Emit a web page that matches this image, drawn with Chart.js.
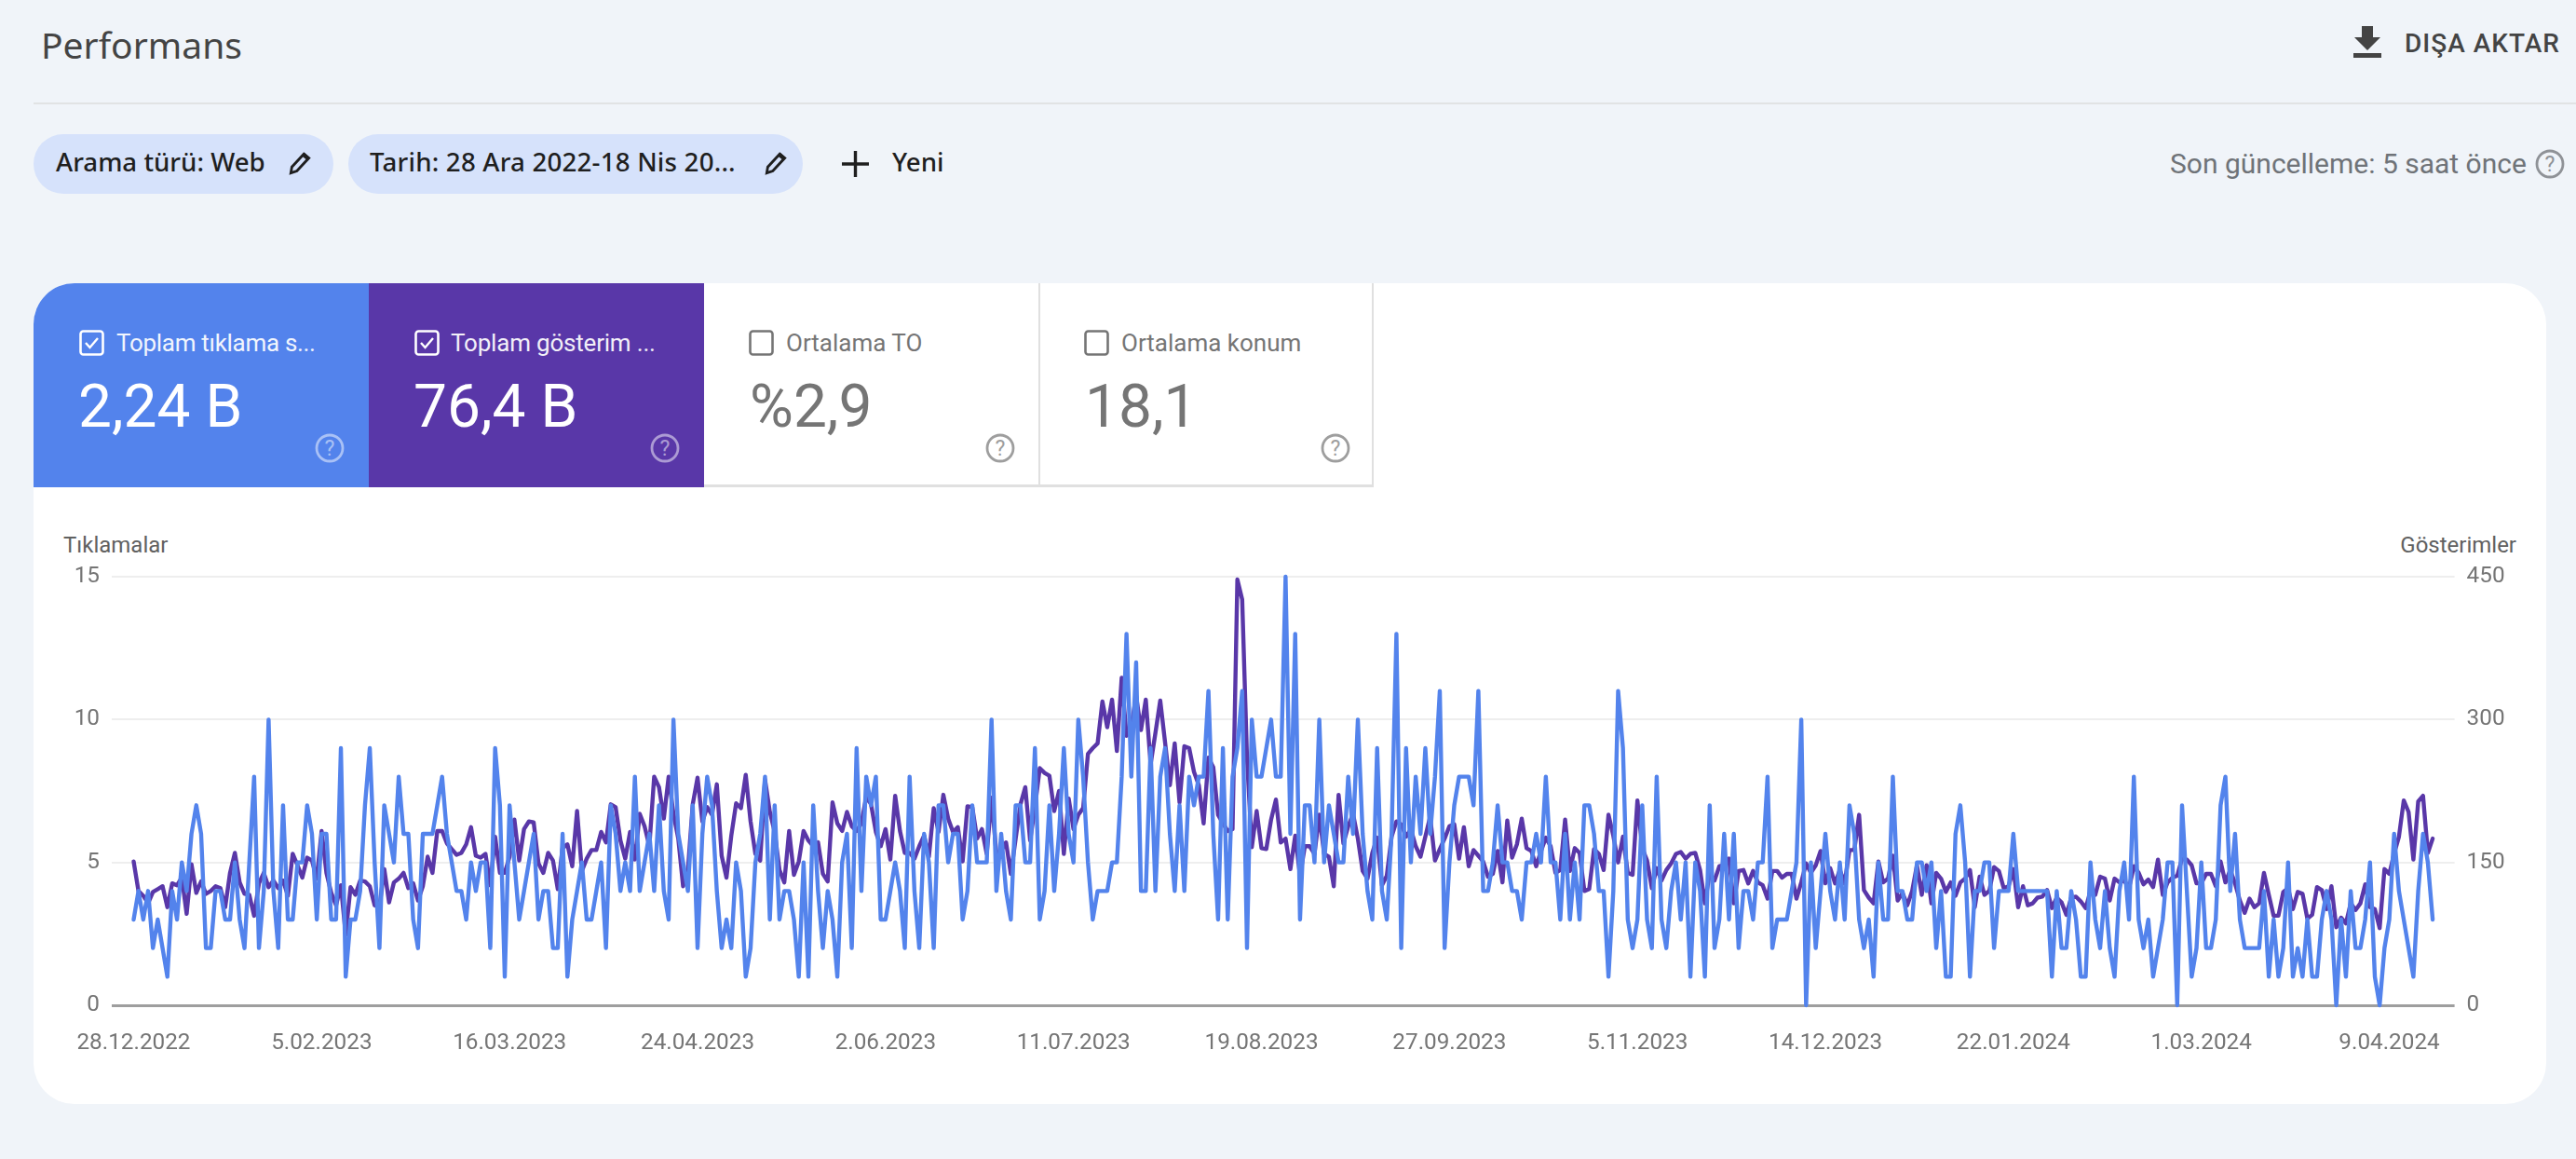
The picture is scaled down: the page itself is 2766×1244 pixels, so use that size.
<!DOCTYPE html>
<html lang="tr"><head><meta charset="utf-8">
<script src="https://cdn.jsdelivr.net/npm/chart.js@4"></script>
<style>
html,body{margin:0;padding:0;width:2766px;height:1244px;overflow:hidden;background:#f0f4f9;font-family:Roboto,sans-serif}
.a{position:absolute;white-space:nowrap;line-height:1}
.gs{font-family:"Noto Sans",Roboto,sans-serif}
.chip{position:absolute;top:144px;height:64px;border-radius:32px;background:#d6e2fb}
.tab{position:absolute;top:304px;width:360px;height:219px;box-sizing:border-box}
svg{position:absolute;overflow:visible}
</style></head><body>
<div class="a gs" style="left:44px;top:28px;font-size:39px;color:#444">Performans</div>
<svg style="left:2527px;top:28px" width="30" height="34" viewBox="0 0 30 34"><path d="M9 0h12v12h8L15 26 1 12h8z M0 29h30v5H0z" fill="#444"/></svg>
<div class="a" style="left:2582px;top:33px;font-size:28px;font-weight:500;color:#444;letter-spacing:1px">DIŞA AKTAR</div>
<div class="a" style="left:36px;top:110px;width:2730px;height:2px;background:#e1e3e4"></div>

<div class="chip" style="left:36px;width:322px"></div>
<div class="chip" style="left:374px;width:488px"></div>
<div class="a gs" style="left:60px;top:160px;font-size:27.7px;font-weight:500;color:#1f1f1f">Arama türü: Web</div>
<svg style="left:308px;top:162px" width="28" height="28" viewBox="0 0 26 26"><path d="M4 22l1-6L17 3l5 4L10 20z" fill="none" stroke="#1f1f1f" stroke-width="2.6"/><path d="M15 5l5 4 2-3-4-4z" fill="#1f1f1f"/></svg>
<div class="a gs" style="left:397px;top:160px;font-size:27.7px;font-weight:500;color:#1f1f1f;letter-spacing:.2px">Tarih: 28 Ara 2022-18 Nis 20...</div>
<svg style="left:819px;top:162px" width="28" height="28" viewBox="0 0 26 26"><path d="M4 22l1-6L17 3l5 4L10 20z" fill="none" stroke="#1f1f1f" stroke-width="2.6"/><path d="M15 5l5 4 2-3-4-4z" fill="#1f1f1f"/></svg>
<svg style="left:904px;top:162px" width="29" height="28" viewBox="0 0 29 28"><path d="M0 14h29M14.5 0v28" stroke="#1f1f1f" stroke-width="3.4"/></svg>
<div class="a gs" style="left:958px;top:160px;font-size:27.7px;font-weight:500;color:#1f1f1f">Yeni</div>

<div class="a" style="left:2330px;top:161px;font-size:30px;color:#6f7378">Son güncelleme: 5 saat önce</div>
<svg style="left:2722px;top:160px" width="32" height="32" viewBox="0 0 32 32"><circle cx="16" cy="16" r="14" fill="none" stroke="#8f9297" stroke-width="2.8"/><text x="16" y="24" font-size="23" text-anchor="middle" fill="#8f9297" font-family="Roboto">?</text></svg>

<div class="a" style="left:36px;top:304px;width:2698px;height:881px;background:#fff;border-radius:44px"></div>
<div class="tab" style="left:36px;background:#5383ec;border-top-left-radius:44px"></div>
<div class="tab" style="left:396px;background:#5937a8"></div>
<div class="tab" style="left:756px;border-bottom:3px solid #e0e0e0"></div>
<div class="tab" style="left:1115px;border-bottom:3px solid #e0e0e0;border-left:2px solid #e0e0e0;border-right:2px solid #e0e0e0"></div>

<svg style="left:85px;top:354px" width="27" height="28" viewBox="0 0 27 28"><rect x="1.5" y="1.5" width="24" height="25" rx="3" fill="none" stroke="#fff" stroke-width="2.6"/><path d="M7 14l4.5 5L20 9" fill="none" stroke="#fff" stroke-width="2.4"/></svg>
<div class="a" style="left:125px;top:355px;font-size:26px;color:#fff;opacity:.92;letter-spacing:-.3px">Toplam tıklama s...</div>
<div class="a" style="left:84px;top:405px;font-size:64px;color:#fff">2,24 B</div>
<svg style="left:338px;top:465px" width="32" height="32" viewBox="0 0 32 32"><circle cx="16" cy="16" r="14" fill="none" stroke="#fff" stroke-opacity=".5" stroke-width="2.8"/><text x="16" y="24" font-size="23" text-anchor="middle" fill="#fff" fill-opacity=".5" font-family="Roboto">?</text></svg>

<svg style="left:445px;top:354px" width="27" height="28" viewBox="0 0 27 28"><rect x="1.5" y="1.5" width="24" height="25" rx="3" fill="none" stroke="#fff" stroke-width="2.6"/><path d="M7 14l4.5 5L20 9" fill="none" stroke="#fff" stroke-width="2.4"/></svg>
<div class="a" style="left:484px;top:355px;font-size:26px;color:#fff;opacity:.92;letter-spacing:-.2px">Toplam gösterim ...</div>
<div class="a" style="left:444px;top:405px;font-size:64px;color:#fff">76,4 B</div>
<svg style="left:698px;top:465px" width="32" height="32" viewBox="0 0 32 32"><circle cx="16" cy="16" r="14" fill="none" stroke="#fff" stroke-opacity=".5" stroke-width="2.8"/><text x="16" y="24" font-size="23" text-anchor="middle" fill="#fff" fill-opacity=".5" font-family="Roboto">?</text></svg>

<svg style="left:804px;top:354px" width="27" height="28" viewBox="0 0 27 28"><rect x="1.5" y="1.5" width="24" height="25" rx="3" fill="none" stroke="#757575" stroke-width="2.6"/></svg>
<div class="a" style="left:844px;top:355px;font-size:26px;color:#757575">Ortalama TO</div>
<div class="a" style="left:805px;top:405px;font-size:64px;color:#757575">%2,9</div>
<svg style="left:1058px;top:465px" width="32" height="32" viewBox="0 0 32 32"><circle cx="16" cy="16" r="14" fill="none" stroke="#9e9e9e" stroke-width="2.8"/><text x="16" y="24" font-size="23" text-anchor="middle" fill="#9e9e9e" font-family="Roboto">?</text></svg>

<svg style="left:1164px;top:354px" width="27" height="28" viewBox="0 0 27 28"><rect x="1.5" y="1.5" width="24" height="25" rx="3" fill="none" stroke="#757575" stroke-width="2.6"/></svg>
<div class="a" style="left:1204px;top:355px;font-size:26px;color:#757575">Ortalama konum</div>
<div class="a" style="left:1165px;top:405px;font-size:64px;color:#757575">18,1</div>
<svg style="left:1418px;top:465px" width="32" height="32" viewBox="0 0 32 32"><circle cx="16" cy="16" r="14" fill="none" stroke="#9e9e9e" stroke-width="2.8"/><text x="16" y="24" font-size="23" text-anchor="middle" fill="#9e9e9e" font-family="Roboto">?</text></svg>

<div class="a" style="left:68px;top:573px;font-size:24px;color:#616161">Tıklamalar</div>
<div class="a" style="right:64px;top:573px;font-size:24px;color:#616161">Gösterimler</div>

<div class="a" style="left:36px;top:560px;width:2698px;height:620px"><canvas id="c" width="2698" height="620"></canvas></div>

<script>
const tickDays = [0,39,78,117,156,195,234,273,312,351,390,429,468];
const tickLabels = ["28.12.2022","5.02.2023","16.03.2023","24.04.2023","2.06.2023","11.07.2023","19.08.2023","27.09.2023","5.11.2023","14.12.2023","22.01.2024","1.03.2024","9.04.2024"];
const leftTicks = [0,5,10,15];
const rightTicks = [0,150,300,450];
const clicks = [
3,4,3,4,2,3,2,1,4,3, 5,4,6,7,6,2,2,4,4,3, 3,5,3,2,5,8,2,4,10,4, 2,7,3,3,5,5,7,6,3,6,
6,3,3,9,1,3,3,4,7,9, 5,2,7,6,5,8,6,6,3,2, 6,6,6,7,8,6,5,4,4,3, 5,4,5,5,2,9,7,1,7,5,
3,4,5,6,3,4,4,2,2,6, 1,3,4,5,3,3,4,5,2,7, 6,4,5,4,8,4,5,6,4,7, 4,3,10,6,5,4,7,2,6,8,
7,4,2,3,2,5,4,1,2,5, 6,8,3,7,3,4,4,3,1,5, 1,7,4,2,4,3,1,5,6,2, 9,4,8,7,8,3,3,4,5,4,
2,8,4,2,6,5,2,7,7,5, 6,6,3,4,7,5,5,5,10,4, 6,4,3,7,7,5,5,9,3,4, 7,4,6,9,6,5,10,8,5,3,
4,4,4,5,5,8,13,8,12,4, 4,9,4,8,9,6,4,7,4,8, 7,8,8,11,6,3,9,3,8,9, 11,2,10,8,8,9,10,8,8,15,
6,13,3,7,7,5,10,5,7,6, 5,5,8,6,10,6,4,3,9,4, 3,6,13,2,9,5,8,6,9,6, 8,11,2,5,7,8,8,8,7,11,
4,4,5,7,5,5,4,4,3,5, 5,6,5,8,5,5,3,6,3,5, 3,7,7,6,4,4,1,4,11,9, 3,2,3,7,3,2,8,3,2,4,
5,3,5,1,5,4,1,7,2,3, 6,3,6,2,4,4,3,5,5,8, 2,3,3,3,4,5,10,0,5,2, 4,6,4,3,5,3,7,6,3,2,
3,1,5,3,3,8,4,4,3,3, 5,5,4,5,2,4,1,1,6,7, 5,1,4,4,5,5,2,4,4,4, 6,4,4,4,4,4,4,4,1,4,
2,2,4,3,1,1,5,3,2,4, 2,1,4,5,3,8,3,2,3,1, 2,3,5,5,0,7,4,1,2,5, 2,2,3,7,8,4,6,3,2,2,
2,2,4,1,3,1,2,5,1,2, 1,3,1,1,3,4,3,0,3,1, 4,2,2,3,5,1,0,2,3,6, 4,3,2,1,4,6,5,3];
const impressions = [
151,120,115,107,119,122,125,103,128,126, 134,96,148,118,130,117,120,125,123,103,
139,160,129,117,116,94,128,139,124,131, 123,131,115,159,147,134,155,152,133,183,
139,118,105,126,74,124,116,131,130,125, 105,103,143,108,129,133,139,123,128,110,
125,156,139,183,183,170,164,158,160,169, 187,157,155,159,126,177,139,139,156,195,
152,185,193,192,149,139,160,152,122,165, 169,146,204,141,154,163,163,182,171,211,
208,173,154,182,153,201,188,167,240,229, 196,240,201,175,125,142,211,239,193,208,
200,232,157,134,178,212,207,242,193,159, 152,237,203,182,142,129,183,137,151,183,
173,167,171,138,130,213,191,183,203,188, 183,191,219,211,182,167,185,153,220,183,
160,160,154,167,178,156,207,182,221,196, 182,187,151,209,208,175,185,159,218,159,
162,171,138,175,211,229,173,208,249,244, 241,204,225,159,217,185,200,207,264,270,
275,319,292,321,267,344,283,293,325,289, 321,253,286,320,276,231,275,213,272,270,
245,231,191,260,250,200,191,183,185,447, 426,260,166,204,165,164,195,216,171,175,
143,178,136,167,167,159,200,159,156,125, 221,170,188,201,175,141,133,160,176,126,
136,177,193,190,177,185,167,156,177,198, 152,164,175,188,190,154,187,146,163,157,
151,135,138,162,129,194,155,169,196,165, 162,146,162,176,167,139,142,195,141,165,
160,120,122,164,159,142,200,178,150,177, 139,137,215,165,152,123,144,131,142,149,
159,161,154,159,160,142,107,139,131,146, 147,154,107,141,142,128,141,129,126,112,
141,141,134,138,138,112,129,149,139,147, 162,128,144,128,142,128,163,163,200,121,
113,107,151,129,133,157,110,118,105,120, 147,116,147,107,139,133,119,129,115,129,
133,142,103,135,116,120,145,141,123,125, 143,103,125,105,107,113,114,121,102,113,
108,95,113,114,109,102,120,116,135,133, 110,133,129,131,123,146,139,127,132,124,
153,116,129,134,136,154,153,147,128,128, 138,138,125,151,129,142,128,110,97,112,
103,107,139,116,94,94,119,123,101,119, 117,91,95,124,121,101,125,82,92,86,
107,100,107,127,103,101,81,143,138,159, 177,215,203,153,214,220,160,175];

const points = a => a.map((v,i)=>({x:i,y:v}));
const tickFont = {family:'Roboto',size:24.3};
const tickColor = '#757575';

new Chart(document.getElementById('c'),{
  type:'line',
  data:{datasets:[
    {label:'Gösterimler',data:points(impressions),yAxisID:'yR',borderColor:'#5937a8',borderWidth:4.4,borderJoinStyle:'round',borderCapStyle:'round',pointRadius:0,tension:0,clip:false,order:2},
    {label:'Tıklamalar',data:points(clicks),yAxisID:'yL',borderColor:'#5383ec',borderWidth:4.4,borderJoinStyle:'round',borderCapStyle:'round',pointRadius:0,tension:0,clip:false,order:1}
  ]},
  options:{
    responsive:false,animation:false,devicePixelRatio:1,
    parsing:false,normalized:true,
    layout:{padding:{top:59,left:0,right:0,bottom:0}},
    plugins:{legend:{display:false},tooltip:{enabled:false},title:{display:false}},
    scales:{
      x:{type:'linear',min:-4.54,max:481.54,
        afterBuildTicks:s=>{s.ticks=tickDays.map(v=>({value:v}));},
        afterFit:s=>{s.height=101;},
        grid:{display:false,drawTicks:false},border:{display:false},
        ticks:{autoSkip:false,maxRotation:0,padding:26,font:tickFont,color:tickColor,
          callback:v=>tickLabels[tickDays.indexOf(v)]}},
      yL:{type:'linear',position:'left',min:0,max:15,
        afterBuildTicks:s=>{s.ticks=leftTicks.map(v=>({value:v}));},
        afterFit:s=>{s.width=84;},
        grid:{drawTicks:false,lineWidth:c=>c.tick.value===0?3:2,color:c=>c.tick.value===0?'#9e9e9e':'#eeeeee'},
        border:{display:false},
        ticks:{padding:13,font:tickFont,color:tickColor}},
      yR:{type:'linear',position:'right',min:0,max:450,
        afterBuildTicks:s=>{s.ticks=rightTicks.map(v=>({value:v}));},
        afterFit:s=>{s.width=98.4;},
        grid:{display:false,drawTicks:false},border:{display:false},
        ticks:{padding:13,font:tickFont,color:tickColor}}
    }
  }
});
</script>
</body></html>
